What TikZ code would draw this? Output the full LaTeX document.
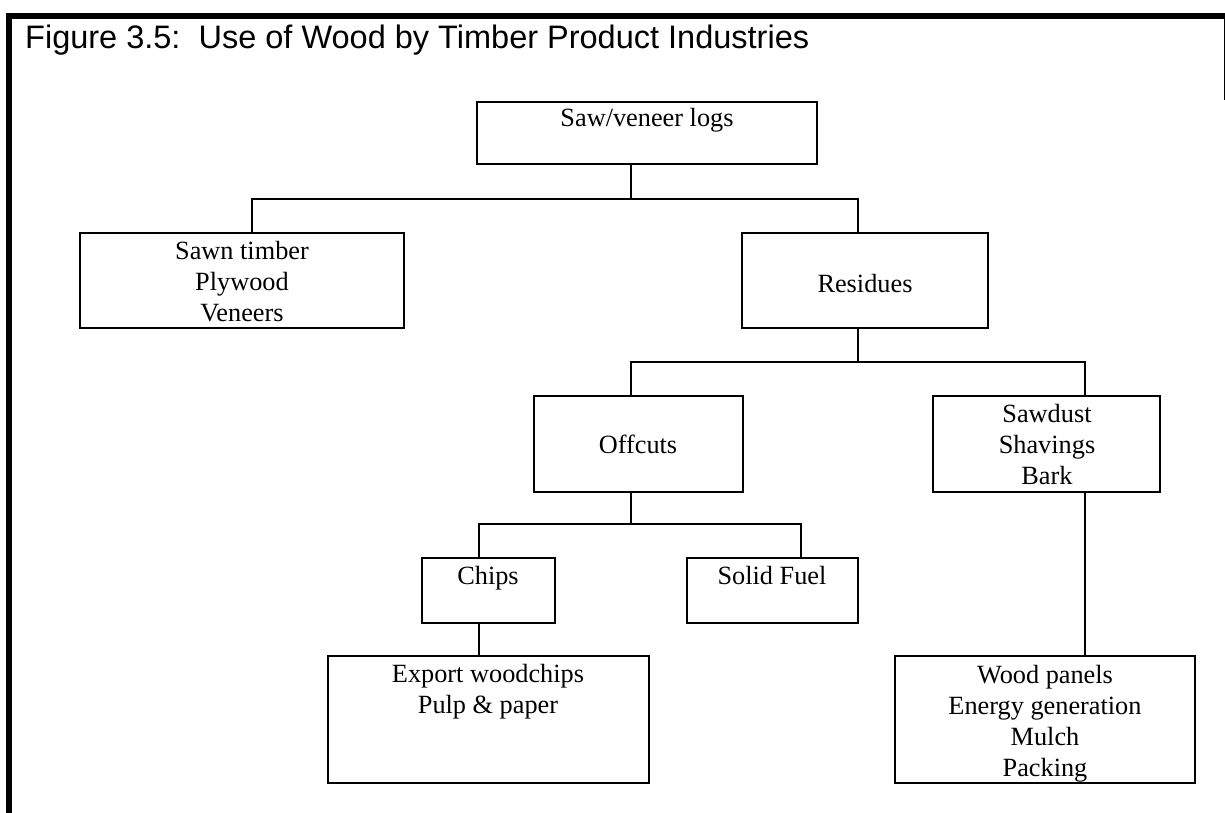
\documentclass[tikz,border=0pt]{standalone}
\usepackage{fontspec}
\setmainfont{Liberation Serif}
\newfontfamily\headfont{Liberation Sans}
\usepackage{tikz}

\begin{document}
\begin{tikzpicture}[x=1pt, y=-1pt,
        box/.style={draw, line width=1.9pt, inner sep=0pt, outer sep=0pt},
        lbl/.style={anchor=base, align=center, inner sep=0pt, font=\fontsize{26.3}{31}\selectfont},
        link/.style={line width=1.9pt}]
        \useasboundingbox (0,0) rectangle (1225,813);
        % frame and title
        \draw [line width=6pt] (9,813) -- (9,16) -- (1225,16);
        \draw [line width=1pt] (1224,16) -- (1224,100);
        \node [anchor=base west, inner sep=0pt, font=\headfont\fontsize{32.5}{38}\selectfont] (title) at (25,49) {Figure 3.5:\ \ Use of Wood by Timber Product Industries};
        % boxes
        \node [box, minimum width=340pt, minimum height=62pt] (logs) at (647,133) {};
        \node [box, minimum width=324pt, minimum height=95pt] (sawn) at (242,280.5) {};
        \node [box, minimum width=246pt, minimum height=95pt] (residues) at (865,280.5) {};
        \node [box, minimum width=209pt, minimum height=96pt] (offcuts) at (638.5,444) {};
        \node [box, minimum width=227pt, minimum height=96pt] (sawdust) at (1046.5,444) {};
        \node [box, minimum width=133pt, minimum height=65pt] (chips) at (488.5,590.5) {};
        \node [box, minimum width=171pt, minimum height=65pt] (fuel) at (772.5,590.5) {};
        \node [box, minimum width=321pt, minimum height=127pt] (export) at (488.5,719.5) {};
        \node [box, minimum width=300pt, minimum height=127pt] (uses) at (1045,719.5) {};
        % texts (base = last line)
        \node [lbl] (logs-t) at (647,127) {Saw/veneer logs};
        \node [lbl] (sawn-t) at (242,321) {Sawn timber\\Plywood\\Veneers};
        \node [lbl] (residues-t) at (865,292) {Residues};
        \node [lbl] (offcuts-t) at (638,453) {Offcuts};
        \node [lbl] (sawdust-t) at (1047,484) {Sawdust\\Shavings\\Bark};
        \node [lbl] (chips-t) at (488,584) {Chips};
        \node [lbl] (fuel-t) at (772,584) {Solid Fuel};
        \node [lbl] (export-t) at (488,713) {Export woodchips\\Pulp \& paper};
        \node [lbl] (uses-t) at (1045,776) {Wood panels\\Energy generation\\Mulch\\Packing};
        % connectors
        \coordinate (j1) at (631,199);
        \coordinate (j2) at (858,362);
        \coordinate (j3) at (631,524);
        \draw [link] ([xshift=-16pt]logs.south) -- (j1);
        \draw [link] ([xshift=10pt]sawn.north) |- (j1) -| ([xshift=-7pt]residues.north);
        \draw [link] ([xshift=-7pt]residues.south) -- (j2);
        \draw [link] ([xshift=-7.5pt]offcuts.north) |- (j2) -| ([xshift=38.5pt]sawdust.north);
        \draw [link] ([xshift=-7.5pt]offcuts.south) -- (j3);
        \draw [link] ([xshift=-9.5pt]chips.north) |- (j3) -| ([xshift=28.5pt]fuel.north);
        \draw [link] ([xshift=-9.5pt]chips.south) -- ([xshift=-9.5pt]export.north);
        \draw [link] ([xshift=38.5pt]sawdust.south) -- ([xshift=40pt]uses.north);
    \end{tikzpicture}
\end{document}
